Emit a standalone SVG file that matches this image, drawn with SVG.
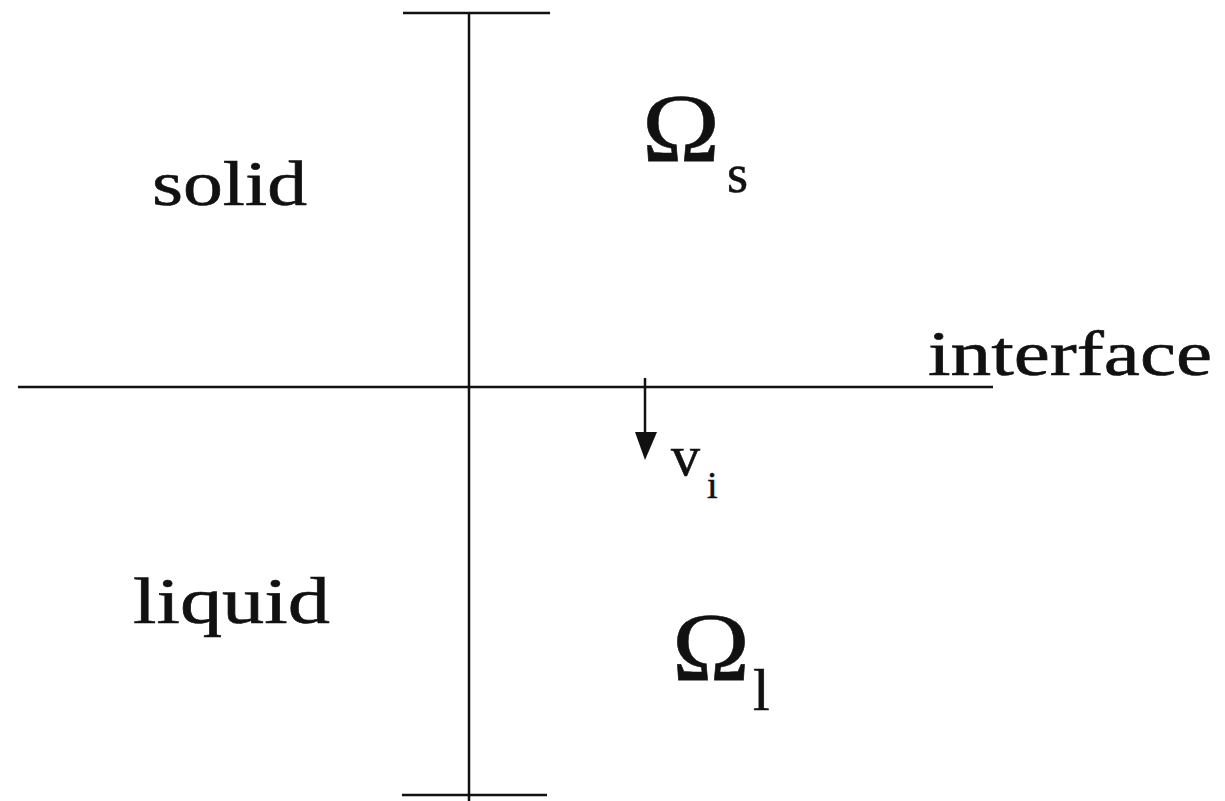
<svg xmlns="http://www.w3.org/2000/svg" width="1225" height="801" viewBox="0 0 1225 801">
<style>
.ln{stroke:#111;stroke-width:2.5;fill:none}
.t{font-family:"Liberation Serif","DejaVu Serif",serif;fill:#111;stroke:#111;stroke-width:0.6}
</style>
<rect width="1225" height="801" fill="#fff"/>
<g id="connectors">
<line class="ln" x1="469" y1="13" x2="469" y2="801"/>
<line class="ln" x1="403" y1="13" x2="550" y2="13"/>
<line class="ln" x1="402" y1="795" x2="547" y2="795"/>
<line class="ln" x1="18" y1="387" x2="993" y2="387"/>
<line class="ln" x1="645" y1="378" x2="645" y2="440"/>
<polygon points="635,432 657,432 645,460" fill="#111"/>
</g>
<g id="solid"><text class="t" x="152" y="205" font-size="64" textLength="155" lengthAdjust="spacingAndGlyphs">solid</text></g>
<g id="liquid"><text class="t" x="133" y="623" font-size="66" textLength="197" lengthAdjust="spacingAndGlyphs">liquid</text></g>
<g id="interface"><text class="t" x="928" y="375" font-size="64" textLength="284" lengthAdjust="spacingAndGlyphs">interface</text></g>
<g id="omega_s"><text class="t" x="642" y="161" font-size="98" textLength="78" lengthAdjust="spacingAndGlyphs">Ω</text><text class="t" x="727" y="192" font-size="54">s</text></g>
<g id="omega_l"><text class="t" x="672" y="680" font-size="98" textLength="78" lengthAdjust="spacingAndGlyphs">Ω</text><text class="t" x="753" y="710" font-size="60">l</text></g>
<g id="v_i"><text class="t" x="671" y="475" font-size="58">v</text><text class="t" x="707" y="498" font-size="38">i</text></g>
</svg>
